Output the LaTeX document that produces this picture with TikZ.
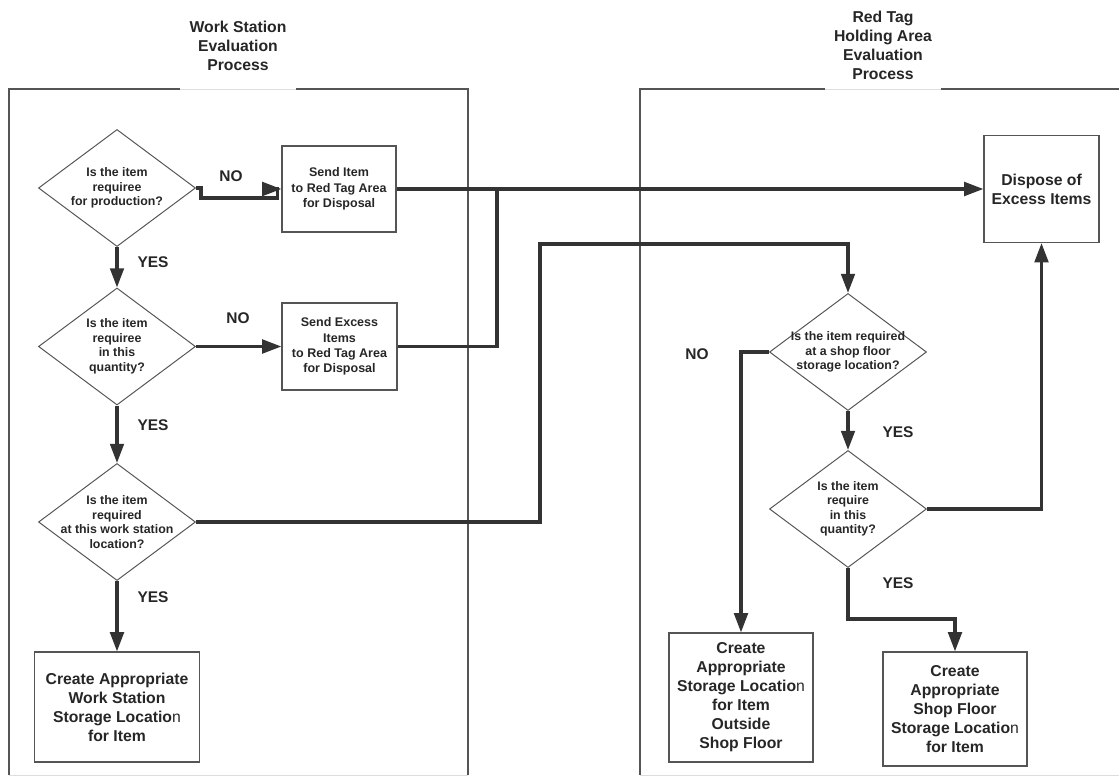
\documentclass[tikz,border=0pt]{standalone}
\usepackage{fontspec}
\setmainfont{Liberation Sans}
\usetikzlibrary{arrows.meta,calc,shapes.geometric}
\definecolor{FlowInk}  {HTML}{333333}
\definecolor{FrameGrey}{HTML}{555555}
\definecolor{GapGrey}  {HTML}{DDDDDD}
\definecolor{TextInk}  {HTML}{262626}

\begin{document}
\begin{tikzpicture}[x=0.025cm, y=-0.025cm,
  flow/.style={line width=2.2pt, FlowInk, -{Triangle[length=0.48cm, width=0.34cm]}},
  feed/.style={line width=2.2pt, FlowInk},
  frame/.style={line width=1pt, FrameGrey},
  decide/.style={shape=diamond, draw=FrameGrey, line width=0.7pt, inner sep=0pt,
                 minimum width=3.925cm, minimum height=2.925cm},
  ask/.style={text=TextInk, align=center, font=\bfseries\fontsize{8.8}{10.3}\selectfont},
  sendbox/.style={draw=FrameGrey, line width=0.8pt, align=center, text=TextInk, inner sep=0pt,
                  font=\bfseries\fontsize{8.9}{11}\selectfont},
  endbox/.style={draw=FrameGrey, line width=0.8pt, align=center, text=TextInk, inner sep=0pt,
                 font=\bfseries\fontsize{11.2}{13.5}\selectfont},
  answer/.style={text=TextInk, font=\bfseries\fontsize{11}{13}\selectfont},
  heading/.style={text=TextInk, align=center, font=\bfseries\fontsize{11.2}{13.5}\selectfont}]

  \useasboundingbox (0,0) rectangle (1119,776);

  % ===== PANELS =====
  \draw[frame] (9,775) -- (9,89) -- (180,89);
  \draw[frame] (296,89) -- (468,89) -- (468,775);
  \draw[line width=0.6pt, GapGrey] (180,89) -- (296,89);
  \draw[line width=0.6pt, GapGrey] (9,775) -- (468,775);
  \node[heading] (wstitle) at (238,46) {Work Station\\Evaluation\\Process};

  \draw[frame] (640,775) -- (640,89) -- (825,89);
  \draw[frame] (941,89) -- (1119,89);
  \draw[line width=0.6pt, GapGrey] (825,89) -- (941,89);
  \draw[line width=0.6pt, GapGrey] (640,775) -- (1119,775);
  \node[heading] (rttitle) at (883,45.5) {Red Tag\\Holding Area\\Evaluation\\Process};

  % ===== WORK STATION SIDE =====
  \node[decide] (d1) at (117,188) {};
  \node[ask] (d1t) at (d1) {Is the item\\requiree\\for production?};
  \node[decide] (d2) at (117,346.5) {};
  \node[ask] (d2t) at (d2) {Is the item\\requiree\\in this\\quantity?};
  \node[decide] (d3) at (117,522) {};
  \node[ask] (d3t) at (d3) {Is the item\\required\\at this work station\\location?};

  \node[sendbox, minimum width=2.85cm, minimum height=2.15cm] (send) at (339,189)
        {Send Item\\to Red Tag Area\\for Disposal};
  \node[sendbox, minimum width=2.875cm, minimum height=2.175cm] (excess) at (339.5,346.5)
        {Send Excess\\Items\\to Red Tag Area\\for Disposal};
  \node[endbox, minimum width=4.125cm, minimum height=2.75cm] (wsloc) at (117,707)
        {Create Appropriate\\Work Station\\Storage Locatio{\mdseries n}\\for Item};

  % ===== RED TAG SIDE =====
  \node[endbox, minimum width=2.875cm, minimum height=2.675cm] (dispose) at (1041.5,189)
        {Dispose of\\Excess Items};
  \node[decide] (d4) at (848,352) {};
  \node[ask] (d4t) at (d4) {Is the item required\\at a shop floor\\storage location?};
  \node[decide] (d5) at (848,509) {};
  \node[ask] (d5t) at (d5) {Is the item\\require\\in this\\quantity?};
  \node[endbox, minimum width=3.6cm, minimum height=3.225cm] (outside) at (741,697.5)
        {Create\\Appropriate\\Storage Locatio{\mdseries n}\\for Item\\Outside\\Shop Floor};
  \node[endbox, minimum width=3.6cm, minimum height=2.85cm] (shopfloor) at (955,709)
        {Create\\Appropriate\\Shop Floor\\Storage Locatio{\mdseries n}\\for Item};

  % ===== CONNECTORS =====
  \coordinate (merge) at (497,189);
  \coordinate (cross) at (540,244);
  \coordinate (drop)  at (848,619);

  \draw[flow] (d1.east) -- ++(5,0) |- ($(send.west)+(-4,9)$) |- (send.west);
  \draw[flow] (send.east) -- (dispose.west);
  \draw[feed] (excess.east) -| (merge);
  \draw[flow] (d1.south) -- (d2.north);
  \draw[flow] (d2.east) -- (excess.west);
  \draw[flow] (d2.south) -- (d3.north);
  \draw[flow] (d3.south) -- (wsloc.north);
  \draw[flow] (d3.east) -| (cross) -| (d4.north);
  \draw[flow] (d4.west) -| (outside.north);
  \draw[flow] (d4.south) -- (d5.north);
  \draw[flow] (d5.east) -| (dispose.south);
  \draw[flow] (d5.south) -- (drop) -| (shopfloor.north);

  % ===== ANSWERS =====
  \node[answer] (no1)  at (231,176) {NO};
  \node[answer] (yes1) at (153,262) {YES};
  \node[answer] (no2)  at (238,318) {NO};
  \node[answer] (yes2) at (153,425) {YES};
  \node[answer] (yes3) at (153,597) {YES};
  \node[answer] (no3)  at (697,354) {NO};
  \node[answer] (yes4) at (898,432) {YES};
  \node[answer] (yes5) at (898,583) {YES};

\end{tikzpicture}
\end{document}
